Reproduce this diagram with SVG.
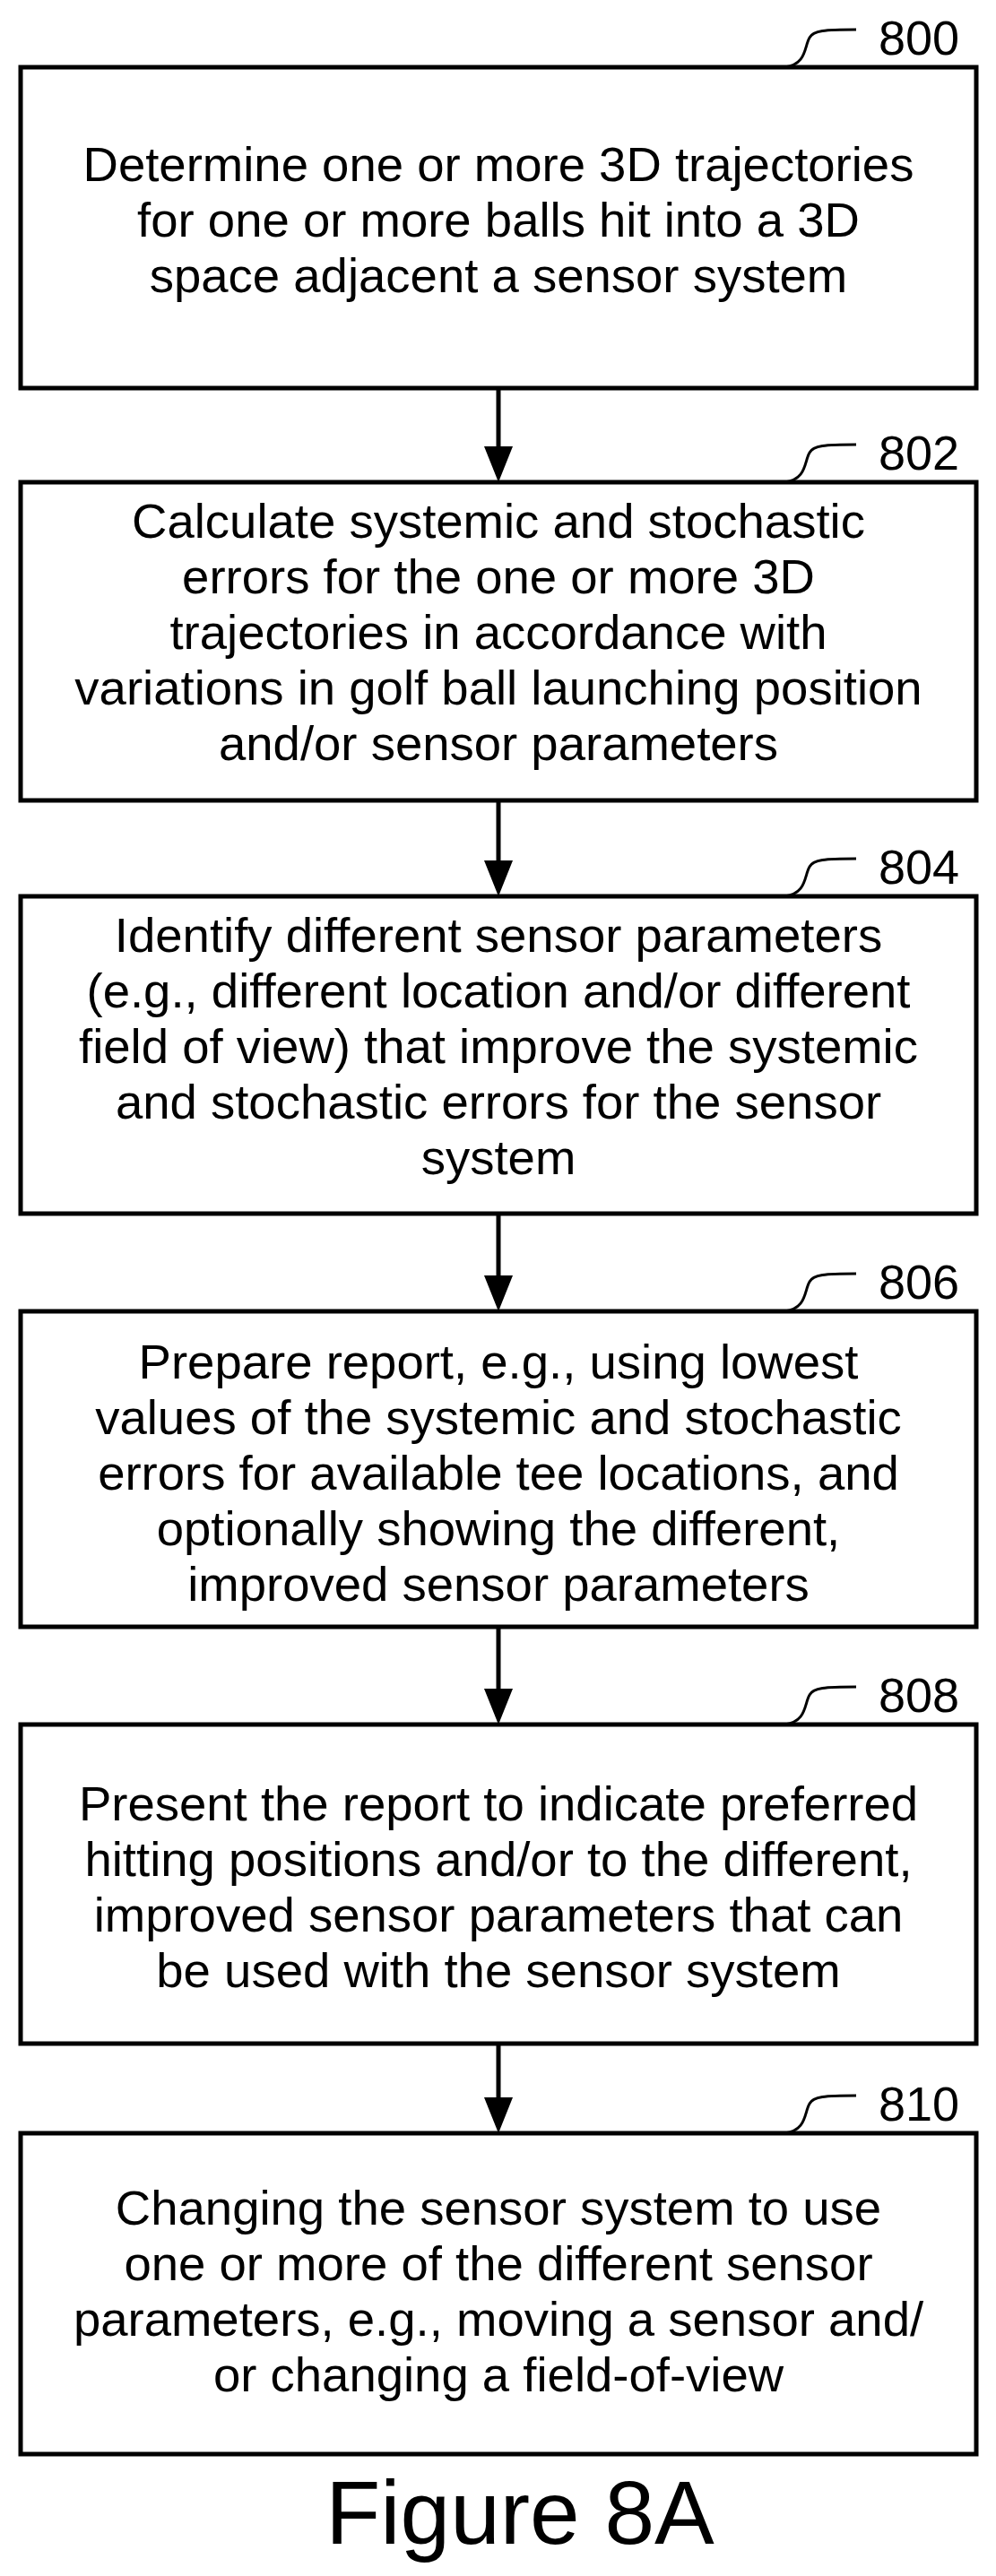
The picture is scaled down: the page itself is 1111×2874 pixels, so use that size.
<svg xmlns="http://www.w3.org/2000/svg" width="1111" height="2874" viewBox="0 0 1111 2874">
<defs>
<style>
.box{fill:#fff;stroke:#000;stroke-width:5}
.t{font-family:"Liberation Sans",Arial,sans-serif;font-size:54.5px;text-anchor:middle;fill:#000}
.lbl{font-family:"Liberation Sans",Arial,sans-serif;font-size:54px;fill:#000}
.ld{fill:none;stroke:#000;stroke-width:3}
.c{stroke:#000;stroke-width:5;fill:none}
</style>
</defs>
<rect width="1111" height="2874" fill="#fff"/>
<g id="connectors">
<line class="c" x1="556" y1="433" x2="556" y2="500"/><polygon points="540,498 572,498 556,538"/>
<line class="c" x1="556" y1="893" x2="556" y2="962"/><polygon points="540,960 572,960 556,1000"/>
<line class="c" x1="556" y1="1354" x2="556" y2="1425"/><polygon points="540,1423 572,1423 556,1463"/>
<line class="c" x1="556" y1="1815" x2="556" y2="1886"/><polygon points="540,1884 572,1884 556,1924"/>
<line class="c" x1="556" y1="2280" x2="556" y2="2342"/><polygon points="540,2340 572,2340 556,2380"/>
</g>
<g id="n800">
<rect class="box" x="23" y="75" width="1066" height="358"/>
<path class="ld" d="M875,75 C900,72 897,52 903,42 C907,34 920,33 955,33"/>
<text class="lbl" x="980" y="61">800</text>
<text class="t"><tspan x="556" y="202">Determine one or more 3D trajectories</tspan><tspan x="556" y="264">for one or more balls hit into a 3D</tspan><tspan x="556" y="326">space adjacent a sensor system</tspan></text>
</g>
<g id="n802">
<rect class="box" x="23" y="538" width="1066" height="355"/>
<path class="ld" d="M875,538 C900,535 897,515 903,505 C907,497 920,496 955,496"/>
<text class="lbl" x="980" y="524">802</text>
<text class="t"><tspan x="556" y="600">Calculate systemic and stochastic</tspan><tspan x="556" y="662">errors for the one or more 3D</tspan><tspan x="556" y="724">trajectories in accordance with</tspan><tspan x="556" y="786">variations in golf ball launching position</tspan><tspan x="556" y="848">and/or sensor parameters</tspan></text>
</g>
<g id="n804">
<rect class="box" x="23" y="1000" width="1066" height="354"/>
<path class="ld" d="M875,1000 C900,997 897,977 903,967 C907,959 920,958 955,958"/>
<text class="lbl" x="980" y="986">804</text>
<text class="t"><tspan x="556" y="1062">Identify different sensor parameters</tspan><tspan x="556" y="1124">(e.g., different location and/or different</tspan><tspan x="556" y="1186">field of view) that improve the systemic</tspan><tspan x="556" y="1248">and stochastic errors for the sensor</tspan><tspan x="556" y="1310">system</tspan></text>
</g>
<g id="n806">
<rect class="box" x="23" y="1463" width="1066" height="352"/>
<path class="ld" d="M875,1463 C900,1460 897,1440 903,1430 C907,1422 920,1421 955,1421"/>
<text class="lbl" x="980" y="1449">806</text>
<text class="t"><tspan x="556" y="1538">Prepare report, e.g., using lowest</tspan><tspan x="556" y="1600">values of the systemic and stochastic</tspan><tspan x="556" y="1662">errors for available tee locations, and</tspan><tspan x="556" y="1724">optionally showing the different,</tspan><tspan x="556" y="1786">improved sensor parameters</tspan></text>
</g>
<g id="n808">
<rect class="box" x="23" y="1924" width="1066" height="356"/>
<path class="ld" d="M875,1924 C900,1921 897,1901 903,1891 C907,1883 920,1882 955,1882"/>
<text class="lbl" x="980" y="1910">808</text>
<text class="t"><tspan x="556" y="2031">Present the report to indicate preferred</tspan><tspan x="556" y="2093">hitting positions and/or to the different,</tspan><tspan x="556" y="2155">improved sensor parameters that can</tspan><tspan x="556" y="2217">be used with the sensor system</tspan></text>
</g>
<g id="n810">
<rect class="box" x="23" y="2380" width="1066" height="358"/>
<path class="ld" d="M875,2380 C900,2377 897,2357 903,2347 C907,2339 920,2338 955,2338"/>
<text class="lbl" x="980" y="2366">810</text>
<text class="t"><tspan x="556" y="2482">Changing the sensor system to use</tspan><tspan x="556" y="2544">one or more of the different sensor</tspan><tspan x="556" y="2606">parameters, e.g., moving a sensor and/</tspan><tspan x="556" y="2668">or changing a field-of-view</tspan></text>
</g>
<text x="580" y="2838" style="font-family:'Liberation Sans',Arial,sans-serif;font-size:100px;text-anchor:middle">Figure 8A</text>
</svg>
